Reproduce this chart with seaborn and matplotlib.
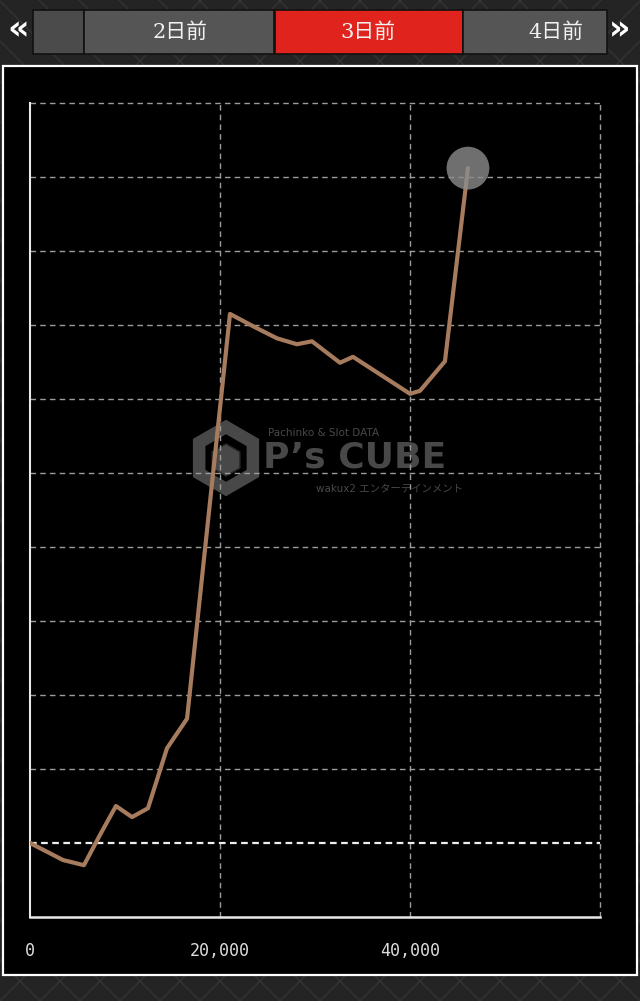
import numpy as np
import pandas as pd
import matplotlib
matplotlib.use("Agg")
import matplotlib.pyplot as plt
import matplotlib.patches as mpatches
import seaborn as sns

# ---------------------------------------------------------------------
# Data
# ---------------------------------------------------------------------
games = [0, 3470, 5680, 7370, 9050, 10740, 12420, 14420, 16530, 21050,
         23680, 26000, 28100, 29680, 32630, 34000, 40000, 41050, 43680, 46100]
diff = [0, -230, -300, 110, 500, 350, 470, 1280, 1680, 7150,
        6970, 6820, 6740, 6780, 6490, 6570, 6070, 6110, 6510, 9120]

x_ticks = [0, 20000, 40000, 60000]
x_tick_labels = ["0", "20,000", "40,000", ""]
y_ticks = list(range(-1000, 10001, 1000))

tab_labels = ["2日前", "3日前", "4日前"]

df = pd.DataFrame({"games": games, "diff": diff})

# ---------------------------------------------------------------------
# Figure setup
# ---------------------------------------------------------------------
W, H = 640, 1001
sns.set_style("dark")
plt.rcParams["font.family"] = ["DejaVu Sans", "Noto Sans CJK JP"]

fig = plt.figure(figsize=(W / 100, H / 100), dpi=100, facecolor="#242424")
tr = fig.dpi_scale_trans


def px(x, y):
    # pixel coords (top-left origin) -> inches for dpi_scale_trans
    return x / 100, (H - y) / 100


# background diamond texture
for k in range(-20, 40):
    x0 = k * 40
    fig.add_artist(plt.Line2D([x0 / 100, (x0 + 1001) / 100], [0, H / 100],
                              transform=tr, color="#343434", lw=1, zorder=-5))
    fig.add_artist(plt.Line2D([x0 / 100, (x0 - 1001) / 100], [0, H / 100],
                              transform=tr, color="#343434", lw=1, zorder=-5))

# tab bar
tabs = [(33, 84, "#4b4b4b"), (84, 274, "#555555"), (275, 463, "#e0231d"), (463, 607, "#555555")]
for x0, x1, c in tabs:
    fig.add_artist(mpatches.Rectangle(px(x0, 54), (x1 - x0) / 100, 44 / 100, transform=tr,
                                      facecolor=c, edgecolor="#111111", lw=1.2, zorder=-3))
for label, cx in zip(tab_labels, [180, 368, 556]):
    fig.text(*px(cx, 32), label, transform=tr, ha="center", va="center", fontsize=15,
             color="#f2f2f2", family=["DejaVu Serif", "Noto Sans CJK JP"])
fig.text(*px(18, 30), "«", transform=tr, ha="center", va="center", fontsize=24,
         color="white", fontweight="bold")
fig.text(*px(620, 30), "»", transform=tr, ha="center", va="center", fontsize=24,
         color="white", fontweight="bold")

# chart panel
fig.add_artist(mpatches.Rectangle(px(3, 975), 634 / 100, 909 / 100, transform=tr,
                                  facecolor="black", edgecolor="white", lw=1.6, zorder=-3))

# watermark
wm = "#484848"
fig.add_artist(mpatches.RegularPolygon(px(226, 458), 6, radius=0.31, orientation=0,
                                       transform=tr, facecolor="none", edgecolor=wm,
                                       lw=9, zorder=-2))
fig.add_artist(mpatches.RegularPolygon(px(226, 460), 6, radius=0.16, orientation=0,
                                       transform=tr, facecolor=wm, edgecolor="#2a2a2a",
                                       lw=1, zorder=-2))
fig.text(*px(268, 433), "Pachinko & Slot DATA", transform=tr, ha="left", va="center",
         fontsize=7.5, color=wm, zorder=-2)
fig.text(*px(263, 457), "P’s CUBE", transform=tr, ha="left", va="center",
         fontsize=26, fontweight="bold", color=wm, zorder=-2)
fig.text(*px(316, 489), "wakux2 エンターテインメント", transform=tr, ha="left", va="center",
         fontsize=7.5, color=wm, zorder=-2, family=["DejaVu Sans", "Noto Sans CJK JP"])

# ---------------------------------------------------------------------
# Axes
# ---------------------------------------------------------------------
left, right, top, bottom = 30, 605, 96, 917
ax = fig.add_axes([left / W, 1 - bottom / H, (right - left) / W, (bottom - top) / H])
ax.set_facecolor("none")
ax.set_xlim(0, (right - left) * 20000 / 190)
ax.set_ylim(-1000, -1000 + (bottom - top) * 1000 / 74)

for y in y_ticks[1:]:
    if y == 0:
        ax.hlines(y, 0, 60000, color="#eeeeee", lw=1.6, ls=(0, (3, 2)), zorder=1)
    else:
        ax.hlines(y, 0, 60000, color="#9c9c9c", lw=1, ls=(0, (4, 3)), zorder=1)
for x in x_ticks[1:]:
    ax.vlines(x, -1000, 10000, color="#9c9c9c", lw=1, ls=(0, (4, 3)), zorder=1)

sns.lineplot(data=df, x="games", y="diff", ax=ax, color="#a77b5d", lw=3, zorder=3)
sns.scatterplot(x=[games[-1]], y=[diff[-1]], ax=ax, s=950, color="#8c8c8c",
                alpha=0.8, edgecolor="none", zorder=4, clip_on=False)

for s in ["top", "right"]:
    ax.spines[s].set_visible(False)
ax.spines["left"].set_color("#e8e8e8")
ax.spines["left"].set_linewidth(1.5)
ax.spines["left"].set_bounds(-1000, 10000)
ax.spines["bottom"].set_color("#e8e8e8")
ax.spines["bottom"].set_linewidth(1.8)
ax.spines["bottom"].set_bounds(0, 60000)

ax.set_xticks(x_ticks)
ax.set_xticklabels(x_tick_labels, family="DejaVu Sans Mono", fontsize=12, color="#dddddd")
ax.set_yticks(y_ticks)
ax.set_yticklabels([])
ax.tick_params(axis="x", direction="out", length=6, width=1.5, color="#e8e8e8", pad=12)
ax.tick_params(axis="y", direction="out", length=7, width=1.5, color="#e8e8e8")
ax.grid(False)
ax.set_xlabel("")
ax.set_ylabel("")

fig.savefig("out.png", dpi=100, facecolor=fig.get_facecolor())
